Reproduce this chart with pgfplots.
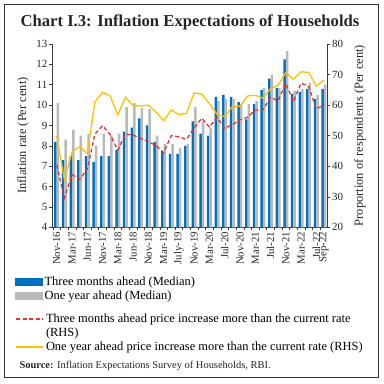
\documentclass[border=0pt]{standalone}
\usepackage{pgfplots}
\usepackage{pgfplotstable}
\pgfplotsset{compat=1.18}
\usepackage{fontspec}
\setmainfont{Liberation Serif}
\definecolor{cblue}{RGB}{0,112,192}
\definecolor{cgray}{RGB}{185,185,185}
\definecolor{cred}{RGB}{226,52,46}
\definecolor{cyel}{RGB}{255,192,0}
\definecolor{caxis}{RGB}{60,60,60}

\pgfplotstableread{
idx three oneyr threerhs oneyrrhs
0 8.2 10.1 40.4 49.9
1 7.3 8.3 29.6 35.6
2 7.5 8.8 37.3 44.7
3 7.3 8.5 35.7 46.4
4 7.5 8.6 39.0 44.1
5 7.2 8.0 50.5 61.0
6 7.5 8.6 53.3 64.2
7 7.5 8.5 50.4 63.0
8 7.8 8.6 45.3 56.8
9 8.7 9.9 50.5 62.6
10 8.9 10.1 50.2 59.8
11 9.35 9.85 49.1 59.7
12 9.0 9.8 48.0 60.0
13 8.2 8.5 46.8 57.7
14 7.75 8.1 44.4 54.9
15 7.6 8.1 50.0 58.4
16 7.6 7.9 49.6 56.9
17 8.0 8.1 48.8 57.3
18 9.2 9.9 52.5 64.0
19 8.6 9.2 55.7 63.6
20 8.5 8.9 52.8 60.5
21 10.4 10.2 56.0 57.0
22 10.5 10.3 52.4 56.2
23 10.4 10.3 53.6 59.5
24 10.15 10.05 55.2 59.6
25 9.3 10.05 56.0 63.0
26 10.05 10.2 58.4 63.2
27 10.75 10.85 58.4 62.3
28 11.3 11.5 62.5 65.4
29 10.85 10.85 61.4 66.5
30 12.25 12.65 67.1 70.6
31 10.55 10.7 61.2 68.5
32 10.65 10.8 67.2 70.9
33 10.8 11.1 66.1 70.7
34 10.3 10.5 58.8 66.2
35 10.8 11.0 60.0 68.3
}\datatable

\pgfplotsset{
  common/.style={
    at={(0bp,0bp)}, anchor=south west,
    scale only axis, width=275.4bp, height=183.3bp,
    xmin=-0.62, xmax=35.45,
  },
}

\begin{document}
\begin{tikzpicture}
\useasboundingbox (-52bp,-156.7bp) rectangle (332bp,227.3bp);
\draw[line width=1.2bp, black!80] (-47.5bp,-150.4bp) rectangle (326.3bp,222.6bp);
\node[anchor=base, font=\fontsize{16.7}{20}\selectfont\bfseries, text=black!85] at (138bp,200.6bp) {Chart I.3: Inflation Expectations of Households};
\node[anchor=base west, font=\fontsize{10.5}{12}\selectfont, text=black!85] at (-36bp,-141bp) {\textbf{Source:} Inflation Expectations Survey of Households, RBI.};

\begin{axis}[common,
  ymin=4, ymax=13, ytick={4,5,...,13},
  axis x line*=bottom, axis y line*=left,
  axis line style={caxis, line width=0.6bp},
  tick align=outside, major tick length=3bp, minor tick length=3bp,
  tick style={caxis, line width=0.5bp},
  xtick={0,2,4,6,8,10,12,14,16,18,20,22,24,26,28,30,32,34,35},
  xticklabels={Nov-16,Mar-17,Jun-17,Nov-17,Mar-18,Jun-18,Nov-18,Mar-19,July-19,Nov-19,Mar-20,Jul-20,Nov-20,Mar-21,Jul-21,Nov-21,Mar-22,Jul-22,Sep-22},
  major x tick style={draw=none},
  minor xtick={-0.5,0.5,...,34.5},
  /pgf/number format/assume math mode=true,
  xticklabel style={rotate=90, anchor=east, font=\fontsize{10.8}{12}\selectfont, text=black!85, inner sep=1.5bp},
  yticklabel style={font=\fontsize{11}{12}\selectfont, text=black!85, inner sep=1.5bp},
  ylabel={Inflation rate (Per cent)},
  ylabel style={font=\fontsize{12.5}{14}\selectfont, text=black!85, at={(axis description cs:-0.105,0.5)}, anchor=center},
]
\addplot[ybar, bar width=2.5bp, bar shift=-1.25bp, fill=cblue, draw=none] table[x=idx,y=three]{\datatable};
\addplot[ybar, bar width=2.5bp, bar shift=1.25bp, fill=cgray, draw=none] table[x=idx,y=oneyr]{\datatable};
\end{axis}

\begin{axis}[common,
  ymin=20, ymax=80, ytick={20,30,...,80},
  axis y line*=right, axis x line=none,
  axis line style={caxis, line width=0.6bp},
  tick align=outside, major tick length=3bp,
  tick style={caxis, line width=0.5bp},
  /pgf/number format/assume math mode=true,
  yticklabel style={font=\fontsize{11}{12}\selectfont, text=black!85, inner sep=1.5bp},
  ylabel={Proportion of respondents (Per cent)},
  ylabel style={font=\fontsize{12.5}{14}\selectfont, text=black!85, at={(axis description cs:1.118,0.5)}, anchor=center},
  legend style={at={(axis description cs:-0.1343,-0.578)}, anchor=west, draw=none, fill=none,
    font=\fontsize{12.5}{14}\selectfont, inner xsep=0pt, inner ysep=0pt, row sep=0bp,
    cells={anchor=west}},
  legend cell align=left,
  legend image code/.code={\draw[#1, line width=1.8bp] (0bp,0bp) -- (27bp,0bp);},
]
\addplot[cred, line width=1.3bp, dash pattern=on 4bp off 2.5bp] table[x=idx,y=threerhs]{\datatable};
\addlegendentry{Three months ahead price increase more than the current rate}
\addlegendimage{empty legend}
\addlegendentry{(RHS)}
\addplot[cyel, line width=1.3bp] table[x=idx,y=oneyrrhs]{\datatable};
\addlegendentry{One year ahead price increase more than the current rate (RHS)}
\end{axis}

\begin{axis}[common, hide axis, ymin=0, ymax=1,
  legend style={at={(axis description cs:-0.1343,-0.3339)}, anchor=west, draw=none, fill=none,
    font=\fontsize{12.5}{14}\selectfont, inner xsep=0pt, inner ysep=0pt, row sep=0bp,
    cells={anchor=west}},
  legend cell align=left,
  legend image code/.code={\fill[#1] (0bp,-3.3bp) rectangle (27bp,3.3bp);},
]
\addlegendimage{cblue}
\addlegendentry{Three months ahead (Median)}
\addlegendimage{cgray}
\addlegendentry{One year ahead (Median)}
\end{axis}
\end{tikzpicture}
\end{document}
